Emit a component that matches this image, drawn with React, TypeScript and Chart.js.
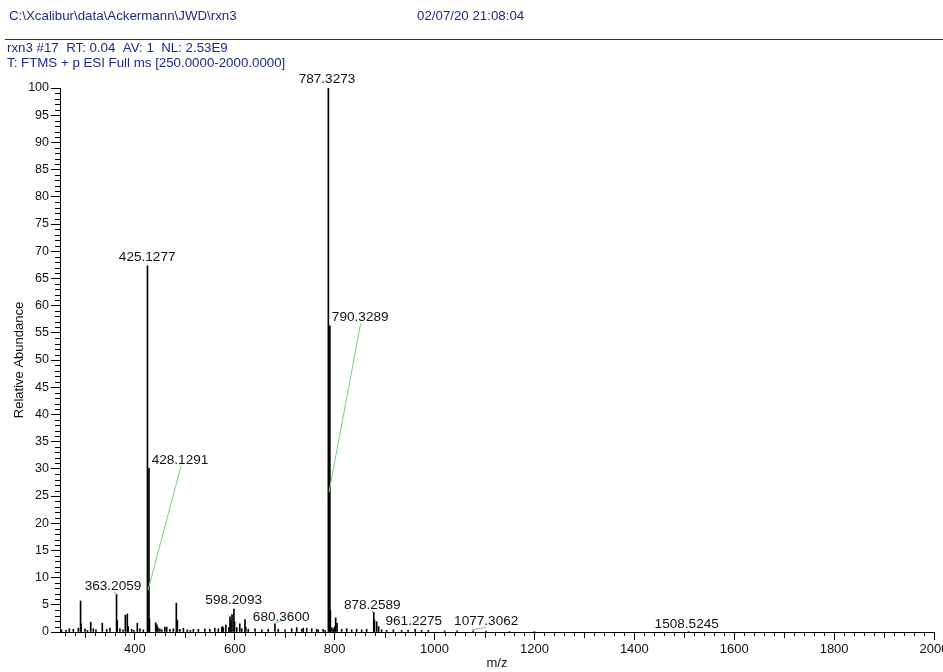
import { useEffect, useRef } from 'react';
import { Chart, registerables } from 'chart.js';

Chart.register(...registerables);

const FONT = '"Liberation Sans", Arial, Helvetica, sans-serif';

// Spectrum sticks (m/z, relative abundance)
const peakMz = [
  253, 262, 268.7, 276.7, 286.7, 291.2, 292.1, 300, 305, 311.5, 316.7, 322, 334.7, 343.5, 350,
  363.21, 364.7, 370, 376, 380.8, 384.8, 386.5, 393.5, 398, 404.8, 410, 416.8,
  425.13, 426.13, 428.13, 429.13, 441.6, 444, 446, 450, 454, 460, 463.6, 470, 477,
  482.9, 485, 490, 497, 505, 511, 517, 527, 540, 550, 560, 567, 574, 575.7, 577, 582, 588,
  590.4, 592, 594.4, 598.21, 599.5, 604, 610, 614, 620.4, 622, 627, 640.5, 654, 667,
  680.36, 687, 700.5, 714, 724, 734, 737, 744, 754, 764, 767, 777, 781,
  787.33, 788.33, 790.33, 791.33, 794, 797, 800, 802, 804.7, 814, 824, 834, 844, 854, 864,
  878.26, 879.5, 884, 888, 894, 904, 917.5, 934, 947, 961.23, 974, 987.5,
  1020, 1045, 1077.31, 1103, 1150, 1200, 1508.52,
];
const peakAbundance = [
  0.4, 0.3, 0.6, 0.5, 0.7, 5.7, 1.5, 0.6, 0.3, 1.8, 0.6, 0.4, 1.6, 0.5, 0.7,
  6.9, 2.1, 0.6, 0.4, 3.1, 3.3, 1.0, 0.5, 0.3, 1.6, 0.6, 0.4,
  67.3, 7.6, 30.1, 2.4, 1.7, 1.3, 0.8, 0.6, 0.4, 0.9, 0.9, 0.5, 0.6,
  5.3, 2.2, 0.5, 0.7, 0.4, 0.3, 0.5, 0.5, 0.6, 0.5, 0.7, 0.6, 0.9, 1.0, 0.7, 1.3, 0.8,
  2.8, 2.2, 3.2, 4.2, 1.9, 0.8, 1.5, 0.6, 2.3, 0.9, 0.5, 0.6, 0.4, 0.5,
  1.5, 0.5, 0.4, 0.6, 0.8, 0.5, 0.7, 0.7, 0.6, 0.5, 0.4, 0.5, 0.3,
  100, 25.7, 56.3, 4.0, 0.8, 0.6, 1.0, 2.6, 1.6, 0.5, 0.6, 0.4, 0.5, 0.4, 0.5,
  3.6, 2.2, 1.9, 1.0, 0.4, 0.3, 0.4, 0.3, 0.3, 0.5, 0.3, 0.3,
  0.2, 0.2, 0.2, 0.15, 0.1, 0.1, 0.1,
];

// Peak annotations (text centre in data units)
const labelText = [
  '787.3273', '425.1277', '790.3289', '428.1291', '363.2059', '598.2093',
  '680.3600', '878.2589', '961.2275', '1077.3062', '1508.5245',
];
const labelMz = [784.6, 424.6, 851.1, 490.3, 356.1, 597.8, 692.9, 875.2, 958.4, 1103.4, 1504.9];
const labelAbund = [101.6, 68.9, 57.8, 31.6, 8.5, 5.75, 2.8, 4.96, 2.0, 1.9, 1.43];

// Leader lines (from label to peak)
const leaderFromMz = [492.3, 852.1, 356.7, 679.1, 875.4, 1074.4];
const leaderFromAb = [30.5, 56.7, 7.4, 1.6, 4.04, 0.37];
const leaderToMz = [426.2, 788.6, 363.5, 693.9, 875.4, 1103];
const leaderToAb = [7.7, 25.7, 7.0, 2.08, 3.5, 0.86];

const xTickValues = [400, 600, 800, 1000, 1200, 1400, 1600, 1800, 2000];
const yTickValues = [0, 5, 10, 15, 20, 25, 30, 35, 40, 45, 50, 55, 60, 65, 70, 75, 80, 85, 90, 95, 100];

const headerPath = 'C:\\Xcalibur\\data\\Ackermann\\JWD\\rxn3';
const headerDate = '02/07/20 21:08:04';
const scanLine = 'rxn3 #17  RT: 0.04  AV: 1  NL: 2.53E9';
const filterLine = 'T: FTMS + p ESI Full ms [250.0000-2000.0000]';

const overlayPlugin = {
  id: 'overlay',
  afterDraw(chart: any) {
    const ctx = chart.ctx as CanvasRenderingContext2D;
    const xs = chart.scales.x;
    const ys = chart.scales.y;
    ctx.save();

    // minor ticks
    ctx.strokeStyle = '#000';
    ctx.lineWidth = 1;
    ctx.beginPath();
    for (let v = 0; v <= 100; v++) {
      if (v % 5 === 0) continue;
      const py = Math.round(ys.getPixelForValue(v)) + 0.5;
      ctx.moveTo(xs.left - 5, py);
      ctx.lineTo(xs.left, py);
    }
    for (let m = 260; m <= 2000; m += 20) {
      if (m % 200 === 0) continue;
      const len = m % 100 === 0 ? 6 : 4;
      const px = Math.round(xs.getPixelForValue(m)) + 0.5;
      ctx.moveTo(px, ys.bottom);
      ctx.lineTo(px, ys.bottom + len);
    }
    ctx.stroke();

    // leader lines
    ctx.strokeStyle = '#78d078';
    ctx.lineWidth = 1;
    ctx.beginPath();
    for (let i = 0; i < leaderFromMz.length; i++) {
      ctx.moveTo(xs.getPixelForValue(leaderFromMz[i]), ys.getPixelForValue(leaderFromAb[i]));
      ctx.lineTo(xs.getPixelForValue(leaderToMz[i]), ys.getPixelForValue(leaderToAb[i]));
    }
    ctx.stroke();

    // peak labels
    ctx.fillStyle = '#111';
    ctx.font = `13.6px ${FONT}`;
    ctx.textAlign = 'center';
    ctx.textBaseline = 'middle';
    for (let i = 0; i < labelText.length; i++) {
      ctx.fillText(labelText[i], xs.getPixelForValue(labelMz[i]), ys.getPixelForValue(labelAbund[i]));
    }

    // header
    ctx.fillStyle = '#1e2a8a';
    ctx.font = `13.3px ${FONT}`;
    ctx.textAlign = 'left';
    ctx.fillText(headerPath, 9, 16);
    ctx.fillText(headerDate, 417, 16);
    ctx.fillText(scanLine, 7, 48);
    ctx.fillText(filterLine, 7, 63);
    ctx.strokeStyle = '#333';
    ctx.beginPath();
    ctx.moveTo(5, 39.5);
    ctx.lineTo(943, 39.5);
    ctx.stroke();

    ctx.restore();
  },
};

export default function App() {
  const ref = useRef<HTMLCanvasElement | null>(null);

  useEffect(() => {
    if (!ref.current) return;
    const chart = new Chart(ref.current, {
      type: 'bar',
      data: {
        datasets: [
          {
            data: peakMz.map((m, i) => ({ x: m, y: peakAbundance[i] })),
            backgroundColor: '#000',
            borderWidth: 0,
            barThickness: 1,
            grouped: false,
          } as any,
        ],
      },
      options: {
        animation: false,
        responsive: false,
        devicePixelRatio: 1,
        layout: { padding: { left: 0, top: 88, right: 9, bottom: 0 } },
        plugins: {
          legend: { display: false },
          tooltip: { enabled: false },
        },
        scales: {
          x: {
            type: 'linear',
            min: 250,
            max: 2000,
            offset: false,
            afterBuildTicks: (s: any) => {
              s.ticks = xTickValues.map((v) => ({ value: v }));
            },
            afterFit: (s: any) => {
              s.height = 40;
              s.paddingLeft = 0;
              s.paddingRight = 0;
            },
            grid: {
              display: true,
              drawOnChartArea: false,
              drawTicks: true,
              tickLength: 8,
              color: '#000',
              offset: false,
            },
            border: { display: true, color: '#000', width: 1 },
            ticks: {
              font: { size: 13, family: FONT },
              color: '#111',
              padding: 2,
              maxRotation: 0,
              autoSkip: false,
              callback: (v: any) => String(v),
            },
            title: {
              display: true,
              text: 'm/z',
              color: '#111',
              font: { size: 13, family: FONT },
              padding: { top: 0, bottom: 1 },
            },
          },
          y: {
            type: 'linear',
            min: 0,
            max: 100,
            afterBuildTicks: (s: any) => {
              s.ticks = yTickValues.map((v) => ({ value: v }));
            },
            afterFit: (s: any) => {
              s.width = 60;
              s.paddingTop = 0;
              s.paddingBottom = 0;
            },
            grid: {
              display: true,
              drawOnChartArea: false,
              drawTicks: true,
              tickLength: 9,
              color: '#000',
            },
            border: { display: true, color: '#000', width: 1 },
            ticks: {
              font: { size: 12.5, family: FONT },
              color: '#111',
              padding: 2,
              autoSkip: false,
              callback: (v: any) => String(v),
            },
            title: {
              display: true,
              text: 'Relative Abundance',
              color: '#111',
              font: { size: 13, family: FONT },
              padding: { top: 12, bottom: 0 },
            },
          },
        },
      } as any,
      plugins: [overlayPlugin],
    });
    return () => chart.destroy();
  }, []);

  return (
    <div style={{ position: 'absolute', left: 0, top: 0, width: 943, height: 672, background: '#fff' }}>
      <canvas ref={ref} width={943} height={672} style={{ display: 'block' }} />
    </div>
  );
}
